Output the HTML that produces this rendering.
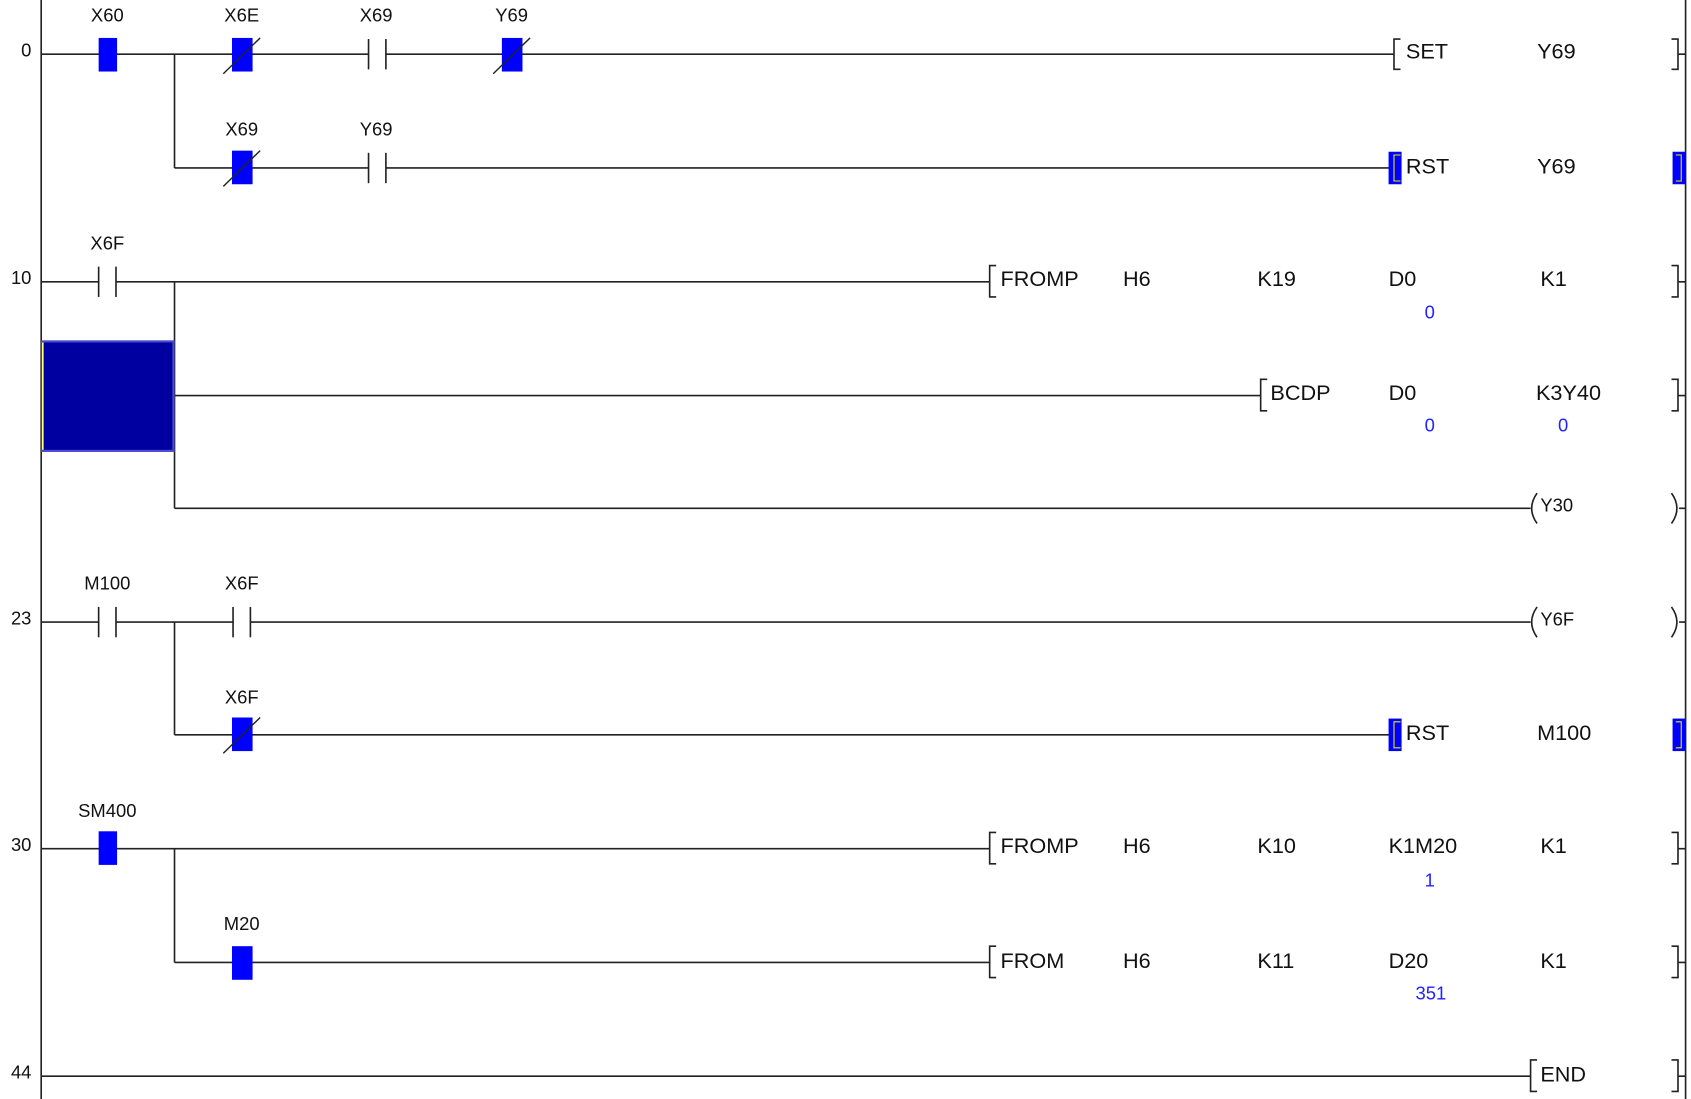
<!DOCTYPE html>
<html><head><meta charset="utf-8"><style>
html,body{margin:0;padding:0;background:#fff;}
svg{display:block;}
text{font-family:"Liberation Sans",Arial,sans-serif;}
.l{font-size:17px;fill:#111;}
.i{font-size:20px;fill:#111;}
.v{font-size:17px;fill:#2222ff;}
.n{font-size:17px;fill:#111;}
</style></head><body>
<svg width="1691" height="1099" viewBox="0 0 1560 1014" preserveAspectRatio="none" xmlns="http://www.w3.org/2000/svg">
<g stroke="#222" stroke-width="1.5" fill="none">
<line x1="38" y1="0" x2="38" y2="1014"/>
<line x1="1555" y1="0" x2="1555" y2="1014"/>
<line x1="38" y1="50" x2="1286" y2="50"/>
<line x1="161" y1="50" x2="161" y2="155"/>
<line x1="161" y1="155" x2="1286" y2="155"/>
<line x1="38" y1="260" x2="913" y2="260"/>
<line x1="161" y1="260" x2="161" y2="469"/>
<line x1="161" y1="365" x2="1163" y2="365"/>
<line x1="161" y1="469" x2="1412" y2="469"/>
<line x1="38" y1="574" x2="1412" y2="574"/>
<line x1="161" y1="574" x2="161" y2="678"/>
<line x1="161" y1="678" x2="1286" y2="678"/>
<line x1="38" y1="783" x2="913" y2="783"/>
<line x1="161" y1="783" x2="161" y2="888"/>
<line x1="161" y1="888" x2="913" y2="888"/>
<line x1="38" y1="993" x2="1412" y2="993"/>
<path d="M1542 36 H1548 V64 H1542 M1548 50 H1555"/>
<path d="M1542 245 H1548 V274 H1542 M1548 260 H1555"/>
<path d="M1542 350 H1548 V379 H1542 M1548 365 H1555"/>
<path d="M1542 768 H1548 V797 H1542 M1548 783 H1555"/>
<path d="M1542 873 H1548 V902 H1542 M1548 888 H1555"/>
<path d="M1542 978 H1548 V1007 H1542 M1548 993 H1555"/>
<path d="M1542 455 Q1552 469 1542 483 M1549 469 H1555"/>
<path d="M1542 560 Q1552 574 1542 588 M1549 574 H1555"/>
<path d="M1292 36 H1286 V64 H1292"/>
<path d="M919 245 H913 V274 H919"/>
<path d="M1169 350 H1163 V379 H1169"/>
<path d="M919 768 H913 V797 H919"/>
<path d="M919 873 H913 V902 H919"/>
<path d="M1418 978 H1412 V1007 H1418"/>
<path d="M1418 455 Q1408 469 1418 483"/>
<path d="M1418 560 Q1408 574 1418 588"/>
</g>
<g stroke="#222" stroke-width="1.5">
<rect x="340" y="40" width="16" height="20" fill="#fff" stroke="none"/>
<line x1="340" y1="36" x2="340" y2="64"/><line x1="356" y1="36" x2="356" y2="64"/>
<rect x="340" y="145" width="16" height="20" fill="#fff" stroke="none"/>
<line x1="340" y1="141" x2="340" y2="169"/><line x1="356" y1="141" x2="356" y2="169"/>
<rect x="91" y="250" width="16" height="20" fill="#fff" stroke="none"/>
<line x1="91" y1="246" x2="91" y2="274"/><line x1="107" y1="246" x2="107" y2="274"/>
<rect x="91" y="564" width="16" height="20" fill="#fff" stroke="none"/>
<line x1="91" y1="560" x2="91" y2="588"/><line x1="107" y1="560" x2="107" y2="588"/>
<rect x="215" y="564" width="16" height="20" fill="#fff" stroke="none"/>
<line x1="215" y1="560" x2="215" y2="588"/><line x1="231" y1="560" x2="231" y2="588"/>
</g>
<g fill="#0000ff">
<rect x="91" y="35" width="17" height="31"/>
<rect x="214" y="35" width="19" height="31"/>
<rect x="463" y="35" width="19" height="31"/>
<rect x="214" y="139" width="19" height="31"/>
<rect x="214" y="662" width="19" height="31"/>
<rect x="91" y="767" width="17" height="31"/>
<rect x="214" y="873" width="19" height="31"/>
<rect x="1281" y="140" width="12" height="30"/>
<rect x="1543" y="140" width="12" height="30"/>
<rect x="1281" y="663" width="12" height="30"/>
<rect x="1543" y="663" width="12" height="30"/>
</g>
<g stroke="#222" stroke-width="1.3">
<line x1="206" y1="68" x2="240" y2="35"/>
<line x1="455" y1="68" x2="489" y2="35"/>
<line x1="206" y1="172" x2="240" y2="139"/>
<line x1="206" y1="695" x2="240" y2="662"/>
</g>
<g stroke="#ee0" stroke-width="1" fill="none">
<path d="M1292 143 H1286 V167 H1292"/><path d="M1546 143 H1551 V167 H1546"/>
<path d="M1292 666 H1286 V690 H1292"/><path d="M1546 666 H1551 V690 H1546"/>
</g>
<rect x="39" y="315" width="121" height="101" fill="#0000a0" stroke="#4a4ad0" stroke-width="2"/>
<line x1="39.5" y1="316" x2="39.5" y2="415" stroke="#ffff80" stroke-width="1.5"/>
<g class="n" text-anchor="end">
<text x="29" y="52">0</text><text x="29" y="262">10</text><text x="29" y="576">23</text>
<text x="29" y="785">30</text><text x="29" y="995">44</text>
</g>
<g class="l" text-anchor="middle">
<text x="99" y="20">X60</text><text x="223" y="20">X6E</text><text x="347" y="20">X69</text><text x="472" y="20">Y69</text>
<text x="223" y="125">X69</text><text x="347" y="125">Y69</text>
<text x="99" y="230">X6F</text>
<text x="99" y="544">M100</text><text x="223" y="544">X6F</text>
<text x="223" y="649">X6F</text>
<text x="99" y="754">SM400</text>
<text x="223" y="858">M20</text>
</g>
<g class="i">
<text x="1297" y="54">SET</text><text x="1418" y="54">Y69</text>
<text x="1297" y="160">RST</text><text x="1418" y="160">Y69</text>
<text x="923" y="264">FROMP</text><text x="1036" y="264">H6</text><text x="1160" y="264">K19</text><text x="1281" y="264">D0</text><text x="1421" y="264">K1</text>
<text x="1172" y="369">BCDP</text><text x="1281" y="369">D0</text><text x="1417" y="369">K3Y40</text>
<text x="1421" y="472" style="font-size:17px">Y30</text>
<text x="1421" y="577" style="font-size:17px">Y6F</text>
<text x="1297" y="683">RST</text><text x="1418" y="683">M100</text>
<text x="923" y="787">FROMP</text><text x="1036" y="787">H6</text><text x="1160" y="787">K10</text><text x="1281" y="787">K1M20</text><text x="1421" y="787">K1</text>
<text x="923" y="893">FROM</text><text x="1036" y="893">H6</text><text x="1160" y="893">K11</text><text x="1281" y="893">D20</text><text x="1421" y="893">K1</text>
<text x="1421" y="998">END</text>
</g>
<g class="v" text-anchor="middle">
<text x="1319" y="294">0</text><text x="1319" y="398">0</text><text x="1442" y="398">0</text>
<text x="1319" y="818">1</text><text x="1320" y="922">351</text>
</g>
</svg>
</body></html>
